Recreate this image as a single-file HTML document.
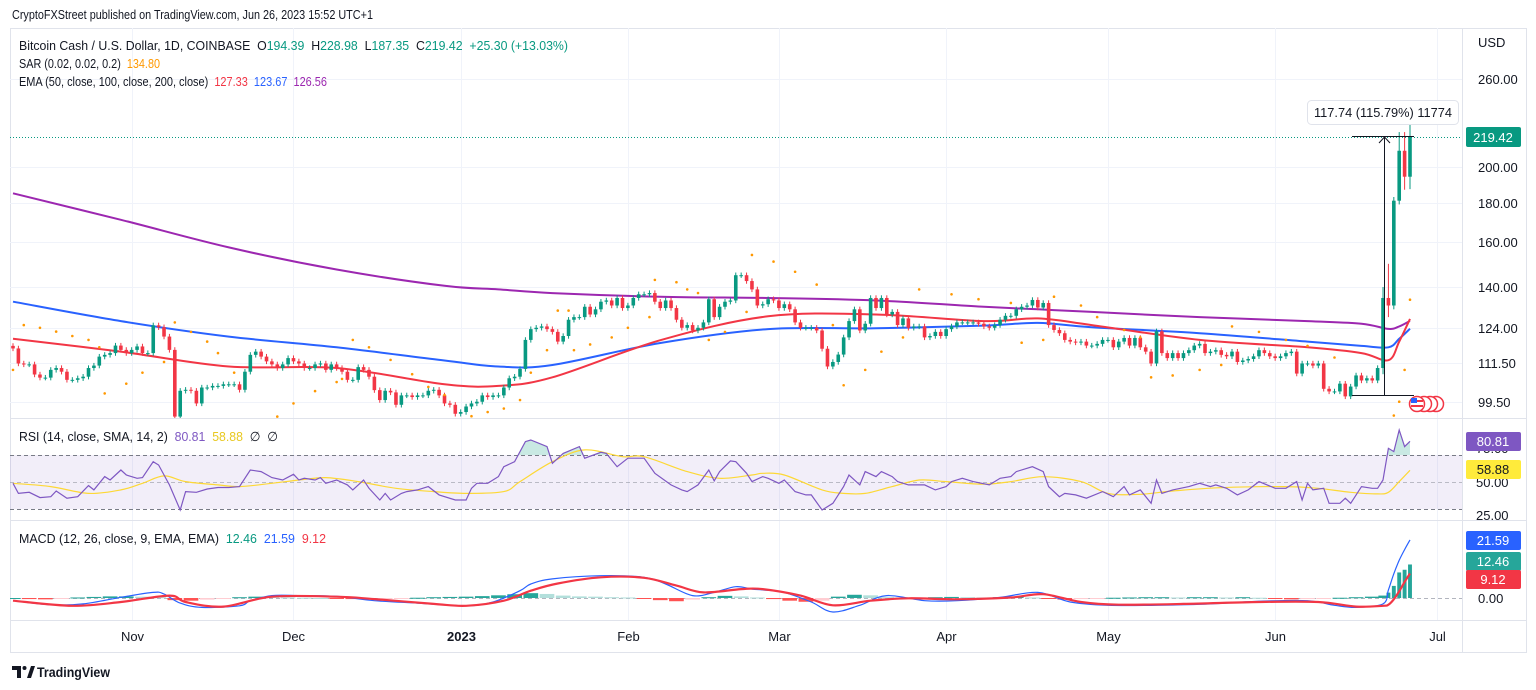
<!DOCTYPE html>
<html>
<head>
<meta charset="utf-8">
<title>BCHUSD chart</title>
<style>
  html,body{margin:0;padding:0;background:#fff;width:1536px;height:690px;overflow:hidden;}
  svg{display:block;font-family:"Liberation Sans",sans-serif;}
  .ax{font-size:13px;fill:#131722;}
</style>
</head>
<body>
<svg id="chart" width="1536" height="690" viewBox="0 0 1536 690" xmlns="http://www.w3.org/2000/svg">
  <defs>
    <clipPath id="clipMain"><rect x="10" y="28" width="1452" height="390"/></clipPath>
    <clipPath id="clipRsi"><rect x="10" y="419" width="1452" height="100"/></clipPath>
    <clipPath id="clipMacd"><rect x="10" y="521" width="1452" height="99"/></clipPath>
    <clipPath id="clipOB"><rect x="10" y="419" width="1452" height="36"/></clipPath>
  </defs>

  <text x="12" y="19" font-size="13" fill="#131722" textLength="361" lengthAdjust="spacingAndGlyphs">CryptoFXStreet published on TradingView.com, Jun 26, 2023 15:52 UTC+1</text>

  <rect x="10.5" y="28.5" width="1516" height="624" fill="none" stroke="#e0e3eb"/>

  <g id="grid"></g>

  <rect x="10" y="455" width="1452" height="54" fill="#7e57c2" fill-opacity="0.1"/>
  <line x1="10" x2="1462" y1="455.5" y2="455.5" stroke="#787b86" stroke-dasharray="4,3"/>
  <line x1="10" x2="1462" y1="482.5" y2="482.5" stroke="#9598a1" stroke-opacity="0.6" stroke-dasharray="4,3"/>
  <line x1="10" x2="1462" y1="509.5" y2="509.5" stroke="#787b86" stroke-dasharray="4,3"/>
  <line x1="10" x2="1462" y1="598.5" y2="598.5" stroke="#b2b5be" stroke-dasharray="4,3"/>

  <g id="main" clip-path="url(#clipMain)"></g>
  <g id="rsi" clip-path="url(#clipRsi)"></g>
  <g id="macd" clip-path="url(#clipMacd)"></g>

  <line x1="10" x2="1527" y1="418.5" y2="418.5" stroke="#e0e3eb"/>
  <line x1="10" x2="1527" y1="520.5" y2="520.5" stroke="#e0e3eb"/>
  <line x1="10" x2="1527" y1="620.5" y2="620.5" stroke="#e0e3eb"/>
  <line x1="1462.5" x2="1462.5" y1="28" y2="652" stroke="#e0e3eb"/>

  <line x1="10" x2="1462" y1="137.5" y2="137.5" stroke="#089981" stroke-dasharray="1,2"/>

  <g>
    <line x1="1352" x2="1414" y1="136.5" y2="136.5" stroke="#131722" stroke-width="1"/>
    <line x1="1352" x2="1414" y1="395.5" y2="395.5" stroke="#131722" stroke-width="1"/>
    <line x1="1384.5" x2="1384.5" y1="137" y2="395" stroke="#131722" stroke-width="1"/>
    <path d="M1379,143 L1384.5,137 L1390,143" fill="none" stroke="#131722"/>
    <rect x="1307.5" y="100.5" width="151" height="24" rx="4" fill="#fff" stroke="#e0e3eb"/>
    <text x="1383" y="117" font-size="13" fill="#131722" text-anchor="middle" textLength="138" lengthAdjust="spacingAndGlyphs">117.74 (115.79%) 11774</text>
  </g>

  <g>
    <circle cx="1436" cy="404" r="7.5" fill="#fff" stroke="#f23645" stroke-width="1.5"/>
    <circle cx="1430" cy="404" r="7.5" fill="#fff" stroke="#f23645" stroke-width="1.5"/>
    <circle cx="1424" cy="404" r="7.5" fill="#fff" stroke="#f23645" stroke-width="1.5"/>
    <circle cx="1417" cy="404" r="7.5" fill="#fff" stroke="#f23645" stroke-width="1.5"/>
    <rect x="1411" y="400" width="12" height="2" fill="#f23645"/>
    <rect x="1411" y="405" width="12" height="2" fill="#f23645"/>
    <rect x="1411" y="398" width="6" height="5" fill="#2962ff"/>
  </g>

  <text x="19" y="50" font-size="13" fill="#131722" xml:space="preserve" textLength="549" lengthAdjust="spacingAndGlyphs">Bitcoin Cash / U.S. Dollar, 1D, COINBASE  O<tspan fill="#089981">194.39</tspan>  H<tspan fill="#089981">228.98</tspan>  L<tspan fill="#089981">187.35</tspan>  C<tspan fill="#089981">219.42</tspan>  <tspan fill="#089981">+25.30 (+13.03%)</tspan></text>
  <text x="19" y="68" font-size="13" fill="#131722" xml:space="preserve" textLength="141" lengthAdjust="spacingAndGlyphs">SAR (0.02, 0.02, 0.2)  <tspan fill="#ff9800">134.80</tspan></text>
  <text x="19" y="86" font-size="13" fill="#131722" xml:space="preserve" textLength="308" lengthAdjust="spacingAndGlyphs">EMA (50, close, 100, close, 200, close)  <tspan fill="#f23645">127.33</tspan>  <tspan fill="#2962ff">123.67</tspan>  <tspan fill="#9c27b0">126.56</tspan></text>
  <text x="19" y="441" font-size="13" fill="#131722" xml:space="preserve" textLength="259" lengthAdjust="spacingAndGlyphs">RSI (14, close, SMA, 14, 2)  <tspan fill="#7e57c2">80.81</tspan>  <tspan fill="#e8c820">58.88</tspan>  ∅  ∅</text>
  <text x="19" y="543" font-size="13" fill="#131722" xml:space="preserve" textLength="307" lengthAdjust="spacingAndGlyphs">MACD (12, 26, close, 9, EMA, EMA)  <tspan fill="#089981">12.46</tspan>  <tspan fill="#2962ff">21.59</tspan>  <tspan fill="#f23645">9.12</tspan></text>

  <g id="priceAxis">
    <text x="1478" y="47" class="ax">USD</text>
  </g>
  <rect x="1466" y="127" width="55" height="20" rx="2" fill="#089981"/>
  <text x="1493" y="142" font-size="13" fill="#fff" text-anchor="middle">219.42</text>

  <text x="1476" y="453" class="ax">75.00</text>
  <text x="1476" y="487" class="ax">50.00</text>
  <text x="1476" y="520" class="ax">25.00</text>
  <rect x="1466" y="432" width="55" height="19" rx="2" fill="#7e57c2"/>
  <text x="1493" y="446" font-size="13" fill="#fff" text-anchor="middle">80.81</text>
  <rect x="1466" y="460" width="55" height="19" rx="2" fill="#ffeb3b"/>
  <text x="1493" y="474" font-size="13" fill="#131722" text-anchor="middle">58.88</text>

  <rect x="1466" y="531" width="55" height="19" rx="2" fill="#2962ff"/>
  <text x="1493" y="545" font-size="13" fill="#fff" text-anchor="middle">21.59</text>
  <rect x="1466" y="552" width="55" height="19" rx="2" fill="#26a69a"/>
  <text x="1493" y="566" font-size="13" fill="#fff" text-anchor="middle">12.46</text>
  <rect x="1466" y="570" width="55" height="19" rx="2" fill="#f23645"/>
  <text x="1493" y="584" font-size="13" fill="#fff" text-anchor="middle">9.12</text>
  <text x="1478" y="603" class="ax">0.00</text>

  <g id="timeAxis"></g>

  <g>
    <path d="M12,666 h9 v12 h-4 v-8 h-5 z" fill="#131722"/>
    <circle cx="24.5" cy="668" r="2" fill="#131722"/>
    <path d="M27,678 l4,-12 h4 l-4,12 z" fill="#131722"/>
    <text x="37" y="677" font-size="14" font-weight="bold" fill="#131722" textLength="73" lengthAdjust="spacingAndGlyphs">TradingView</text>
  </g>
</svg>

<script>
const closes = [116.6,111.5,111.2,111.2,107.9,106.9,106.9,109.4,110,108.8,106.2,106.2,106.7,107.2,110,110.8,113.8,114.4,115,117.6,116.1,115,116.1,117.3,115,115,124.9,124.2,120.8,116.1,
95.2,
102.8,103.1,102.8,99,103.8,103.8,104.3,104.3,104.8,104.8,104.8,103.1,108.8,114.4,115.5,113.8,112.2,111.2,110,111.2,113.3,112.2,111.5,110,110,111.2,111.5,109.4,111.2,110,108.8,106.2,106.2,110.3,109.4,107.2,
103,
100,102.8,102.3,98.6,101.4,101.4,100.9,101.4,101.4,102.8,103.1,101.4,99,98.6,96,96.5,98.1,99,99.5,101.4,100.9,101.4,101.4,103.8,106.7,107.2,109.7,
119.6,123.5,124,124.5,123.5,122.5,119,121,127,128,128,132,129,131,134,134.5,132.5,135.5,131.5,132.5,135.5,137,137,137.5,134,131.5,134.5,131.5,127,124,125,123,124,126,135,128,132,134,134.5,145,145,142.5,139,132.5,133,135,134.5,131.5,133,131,126,124,124,124,123,116.5,110.5,112,114.5,120.5,126.5,131,123,125.5,135.5,131.5,135.5,129,130,125,127.5,124,124.5,124.5,120.5,121,122.5,121,123.5,124.5,126,126,126,126,125.5,124.5,124,125,127,128.5,128.5,131,
132,132.5,134.7,131.7,133.5,125,123.2,122,119.6,119,118.7,119,117.6,117.6,118.2,119.6,119.6,117,119,120.3,117.6,120.3,117,115.5,111.5,122.7,115,113.3,115,113.3,115,116,117.6,118.2,115,115.5,116,114.4,113.9,115.5,112,112.5,113,113.9,116,115,113.9,113.3,113.9,115,115.5,108.2,111.5,111.5,110.8,111.5,103.4,102.6,102.6,105,101.1,104.1,107.6,106,106.7,106,110,135.5,132.5,181,210,194.39,219.42];
const firstOpen = 117.5;
const lastHighs = [140, 150, 183, 222, 222, 228.98];
const lastLows  = [108, 128, 131, 179, 187, 187.35];

const emaIdx = [0,20,40,60,80,90,100,120,140,160,180,190,200,220,240,250,255,257,259];
const ema50  = [120,115.5,110.5,110,104.8,104.3,107,119.5,128.3,129,126.5,127.5,125,119.6,117,115,112.6,119,127.33];
const ema100 = [134,126.5,120.8,117,112.5,110.5,111,118.5,123.5,123.8,124.8,125.8,124.2,122,119,117.5,117,120,123.67];
const ema200 = [185,171,157.5,147.5,140.5,139,137.5,136,135.5,134.5,132,131,130,128,126.5,125.5,123.6,124.5,126.56];

const sarIdx = [0,2,5,8,11,14,16,17,21,24,28,30,33,36,38,41,49,52,56,60,61,63,66,70,74,77,80,85,88,91,94,96,99,101,103,104,107,111,114,118,119,123,125,127,129,132,136,137,141,145,149,152,154,158,161,165,168,174,179,185,187,191,193,198,201,206,209,211,215,220,224,226,231,236,240,245,256,257,258,259];
const sarVal = [109.4,125,124,122.6,121,119.6,117,102,105,108.5,112,126,122.5,119,115,108.5,95.2,99,102.7,105.5,106.5,119.6,117,112.7,108,104,101.5,95.3,96.5,97.5,100,108.5,116,130.5,130.5,116,118,120.5,124,128,143,142,139,137.5,119.6,122.5,130,154,151,146.5,141,125,104.5,109.4,115.5,120.5,139,137,135,133.5,118.6,119.6,136,132.5,128,123.2,120.5,107,107.6,109.4,111,124.5,122.5,119.6,117.5,113.5,95.5,99.5,109.4,134.8];

const rsiIdx = [0,1,3,5,7,8,10,12,14,15,17,18,20,21,23,24,26,27,29,31,32,34,36,38,40,42,44,46,48,50,52,53,54,56,57,58,60,62,63,65,66,68,69,70,72,73,75,77,79,82,84,85,86,88,90,91,93,95,96,99,100,102,105,106,109,110,112,114,117,119,122,124,125,127,129,130,131,133,134,136,137,139,140,142,143,145,147,148,150,152,154,155,157,158,160,161,163,164,166,169,171,173,174,176,178,181,183,185,186,189,191,192,194,195,197,199,202,204,206,207,209,211,212,213,215,218,220,222,223,225,227,229,231,234,236,238,239,240,241,243,244,246,247,248,250,252,253,254,255,256,257,258,259];
const rsiVal = [49,41.4,42.2,38.2,38.9,43.2,37.7,38.9,47.3,44,54.1,51.5,59.1,55.3,52.8,53.3,65.4,62.9,47.8,28.8,42.7,42.2,44.7,45.8,45.8,46.5,59.1,57.9,53.3,51.5,55.8,51.5,52.8,51.5,53.3,49,51.5,47.8,44,51.5,45.2,36.4,41.4,36.4,41.4,42.7,44,46.5,40.2,36.4,36.4,45.2,49,49,54.1,61.6,65.4,80.6,81.8,76.8,64.2,71.7,76.8,68,72.5,71.7,61.6,68,68,56.6,47.8,44,42.7,47.8,59.1,50.8,57.9,66,65.4,56.6,50.3,54.1,52.8,49,51.5,42.7,40.2,40.2,28.8,33.9,46.5,55.3,47.8,57.9,54.1,57.9,54.1,50.3,47.8,47.8,44,46.5,50.3,52.8,50.3,47.8,52.8,54.1,57.9,61.6,57.9,46.5,38.9,41.4,40.2,37.7,42.7,38.9,46.5,40.2,44,33.9,51.5,41.4,44,46.5,49,46.5,47.8,45.2,40.2,44,50.3,45.2,45.2,50.3,36.4,49,44,45.2,33.9,33.9,37.7,33.9,46.5,45.2,45.2,51.5,75.5,73,89.4,76.8,80.81];
const rsiSmaIdx = [0,7,14,20,24,28,32,38,42,48,53,58,64,71,78,84,91,94,100,106,113,117,125,131,137,139,143,150,154,158,163,168,173,180,185,191,198,203,209,215,224,236,242,248,253,255,257,259];
const rsiSmaVal = [49,46.5,41.4,44,49,54.6,50.3,47.8,46.5,49,51.5,53.3,50.3,45.2,42.7,41.4,42.7,50.3,65.4,74.3,69.2,69.2,57.9,52.8,55.3,56.6,55.3,44,41.4,41.4,46.5,51.5,50.3,48.3,50.3,54,50.3,41.4,40.7,43.2,45.7,46.5,45.2,42.2,41,42.2,50.3,58.88];

const macdIdx = [0,7,13,20,26,28,31,35,42,44,48,53,60,67,75,84,89,94,96,100,109,117,121,126,130,134,137,139,143,148,152,157,162,169,175,183,190,196,203,212,222,231,240,245,249,254,255,256,257,258,259];
const macdVal = [-1,-2.5,-2.2,0.25,2.1,1.5,-1.9,-3.5,-2.9,-1,0.9,0.9,0.6,-1,-1.9,-2.9,-1.5,2.7,5.2,7.1,8.3,7.7,5.2,0.9,2.1,4.2,3.3,3,2.1,-1.5,-5.2,-2.7,0.9,-1,-1,0.25,2.1,-1.5,-2.7,-2.7,-2.2,-1.2,-1,-2.7,-3.5,-2.2,3,9,14,18,21.59];
const signalIdx = [0,11,20,29,32,39,48,60,67,78,84,91,96,101,109,117,123,128,135,139,146,152,159,166,175,185,191,198,205,217,231,242,249,254,255,256,257,258,259];
const signalVal = [-1,-2.9,-1.5,0.9,-1.5,-3.2,0.5,0.5,-0.4,-2.2,-2.9,-1,2.7,5.4,7.7,7.5,4.6,2.1,3.3,3.3,0.9,-2.7,-1,-0.1,-0.5,0.2,1.4,-1.5,-2.5,-2.2,-1.5,-1.5,-3.2,-2.9,-2.5,-0.5,2.5,6,9.12];
const histIdx = [0,3,6,9,12,15,18,21,24,27,30,33,36,39,42,45,48,51,54,57,60,63,66,69,72,75,78,81,84,87,90,93,96,99,102,105,108,111,114,117,120,123,126,129,132,135,138,141,144,147,150,153,156,159,162,165,168,171,174,177,180,183,186,189,192,195,198,201,204,207,210,213,216,219,222,225,228,231,234,237,240,243,246,249,252,254,255,256,257,258,259];
const histVal = [0,-0.4,-0.5,-0.3,0.2,0.4,0.6,0.6,0.5,0.3,-0.8,-1,-0.6,-0.3,0.3,0.5,0.4,0.2,0.1,0,-0.2,-0.4,-0.5,-0.3,-0.2,0.1,0.3,0.4,0.5,0.7,1,1.4,1.8,1.5,0.9,0.6,0.5,0.3,0.2,-0.2,-0.8,-1.2,-0.6,0.3,0.8,0.6,0.2,-0.4,-1,-1.4,-1,0.5,1.2,1,0.3,0.2,0.1,0.3,0.4,0.3,0.2,0.3,0.4,0.2,-0.3,-0.6,-0.4,-0.2,0.1,0.2,0.3,0.3,0.2,0.3,0.3,0.2,0.3,0.1,-0.3,-0.5,-0.4,-0.2,0.1,0.3,0.5,0.9,2,4.5,9.5,10.5,12.46];

const priceTicks = [260, 200, 180, 160, 140, 124, 111.5, 99.5];
const monthLabels = ["Nov","Dec","2023","Feb","Mar","Apr","May","Jun","Jul"];
const monthStartIdx = [22, 52, 83, 114, 142, 173, 203, 234, 264];

const NS = "http://www.w3.org/2000/svg";
const N = closes.length;
const X0 = 13, X1 = 1410;
const step = (X1 - X0) / (N - 1);
function xOf(i){ return X0 + i * step; }
function yP(p){ return 79 + (Math.log(260) - Math.log(p)) * 336; }
function yR(v){ return 482 - (v - 50) * 1.32; }
function yM(v){ return 598 - v * 2.69; }

function el(tag, attrs, parent){
  const e = document.createElementNS(NS, tag);
  for (const k in attrs) e.setAttribute(k, attrs[k]);
  parent.appendChild(e);
  return e;
}
function smoothPath(pts){
  let d = "M" + pts[0][0].toFixed(1) + "," + pts[0][1].toFixed(1);
  for (let i = 0; i < pts.length - 1; i++){
    const p0 = pts[i-1] || pts[i], p1 = pts[i], p2 = pts[i+1], p3 = pts[i+2] || pts[i+1];
    const c1x = p1[0] + (p2[0]-p0[0])/6, c1y = p1[1] + (p2[1]-p0[1])/6;
    const c2x = p2[0] - (p3[0]-p1[0])/6, c2y = p2[1] - (p3[1]-p1[1])/6;
    d += " C" + c1x.toFixed(1)+","+c1y.toFixed(1)+" "+c2x.toFixed(1)+","+c2y.toFixed(1)+" "+p2[0].toFixed(1)+","+p2[1].toFixed(1);
  }
  return d;
}

const grid = document.getElementById("grid");
const main = document.getElementById("main");
const rsi = document.getElementById("rsi");
const macd = document.getElementById("macd");
const priceAxis = document.getElementById("priceAxis");
const timeAxis = document.getElementById("timeAxis");

priceTicks.forEach(p => {
  const y = Math.round(yP(p)) + 0.5;
  const g = el("line", {x1:10, x2:1462, y1:y, y2:y, stroke:"#f0f3fa"}, grid);
  
  
  const t = el("text", {x:1478, y:y + 4.5, class:"ax"}, priceAxis);
  t.textContent = p.toFixed(2);
  
  
});
monthLabels.forEach((m, k) => {
  const x = Math.round(xOf(monthStartIdx[k])) + 0.5;
  if (x < 1462) {
    const g = el("line", {x1:x, x2:x, y1:28, y2:620, stroke:"#f0f3fa"}, grid);
    
    
  }
  const t = el("text", {x:x, y:641, "text-anchor":"middle", class:"ax"}, timeAxis);
  if (m === "2023") t.setAttribute("font-weight", "bold");
  t.textContent = m;
  
  
});

[[ema200, "#9c27b0", "ema-200-line"], [ema100, "#2962ff", "ema-100-line"], [ema50, "#f23645", "ema-50-line"]].forEach(([arr, col, name]) => {
  const pts = arr.map((v, k) => [xOf(emaIdx[k]), yP(v)]);
  const p = el("path", {d:smoothPath(pts), fill:"none", stroke:col, "stroke-width":2}, main);
  
  
});

for (let i = 0; i < N; i++){
  const o = i === 0 ? firstOpen : closes[i-1];
  const c = closes[i];
  let hi = Math.max(o, c) * 1.008, lo = Math.min(o, c) * 0.992;
  const off = i - (N - lastHighs.length);
  if (off >= 0) { hi = lastHighs[off]; lo = lastLows[off]; }
  const col = c >= o ? "#089981" : "#f23645";
  const x = xOf(i);
  const w = el("line", {x1:x, x2:x, y1:yP(hi), y2:yP(lo), stroke:col, "stroke-width":1}, main);
  
  
  const yt = yP(Math.max(o, c)), yb = yP(Math.min(o, c));
  const b = el("rect", {x:x - 1.8, y:yt, width:3.6, height:Math.max(1, yb - yt), fill:col}, main);
  
  
}

sarIdx.forEach((i, k) => {
  const d = el("circle", {cx:xOf(i), cy:yP(sarVal[k]), r:1.3, fill:"#ff9800"}, main);
  
  
});

const rsiPts = rsiVal.map((v, k) => [xOf(rsiIdx[k]), yR(v)]);
const obPoly = "M" + rsiPts.map(p => p[0].toFixed(1) + "," + p[1].toFixed(1)).join(" L") +
  " L" + rsiPts[rsiPts.length-1][0].toFixed(1) + ",455 L" + rsiPts[0][0].toFixed(1) + ",455 Z";
const ob = el("path", {d:obPoly, fill:"#089981", "fill-opacity":0.22, "clip-path":"url(#clipOB)"}, rsi);


const smaPts = rsiSmaVal.map((v, k) => [xOf(rsiSmaIdx[k]), yR(v)]);
const smaLine = el("path", {d:smoothPath(smaPts), fill:"none", stroke:"#fdd835", "stroke-width":1.2}, rsi);


const rsiLine = el("polyline", {points:rsiPts.map(p => p[0].toFixed(1) + "," + p[1].toFixed(1)).join(" "), fill:"none", stroke:"#7e57c2", "stroke-width":1.2}, rsi);



histIdx.forEach((i, k) => {
  const v = histVal[k], prev = k > 0 ? histVal[k-1] : 0;
  let col;
  if (v >= 0) col = v >= prev ? "#26a69a" : "#b2dfdb";
  else col = v <= prev ? "#ff5252" : "#ffcdd2";
  const gap = k > 0 ? (i - histIdx[k-1]) : 3;
  const bw = Math.max(3.5, gap * step - 1.5);
  const y0 = yM(0), y1 = yM(v);
  const bar = el("rect", {x:xOf(i) - bw / 2, y:Math.min(y0, y1), width:bw, height:Math.max(1, Math.abs(y1 - y0)), fill:col}, macd);
  
  
});
const macdLine = el("path", {d:smoothPath(macdVal.map((v, k) => [xOf(macdIdx[k]), yM(v)])), fill:"none", stroke:"#2962ff", "stroke-width":1.2}, macd);


const sigLine = el("path", {d:smoothPath(signalVal.map((v, k) => [xOf(signalIdx[k]), yM(v)])), fill:"none", stroke:"#f23645", "stroke-width":2.2}, macd);


</script>
</body>
</html>
